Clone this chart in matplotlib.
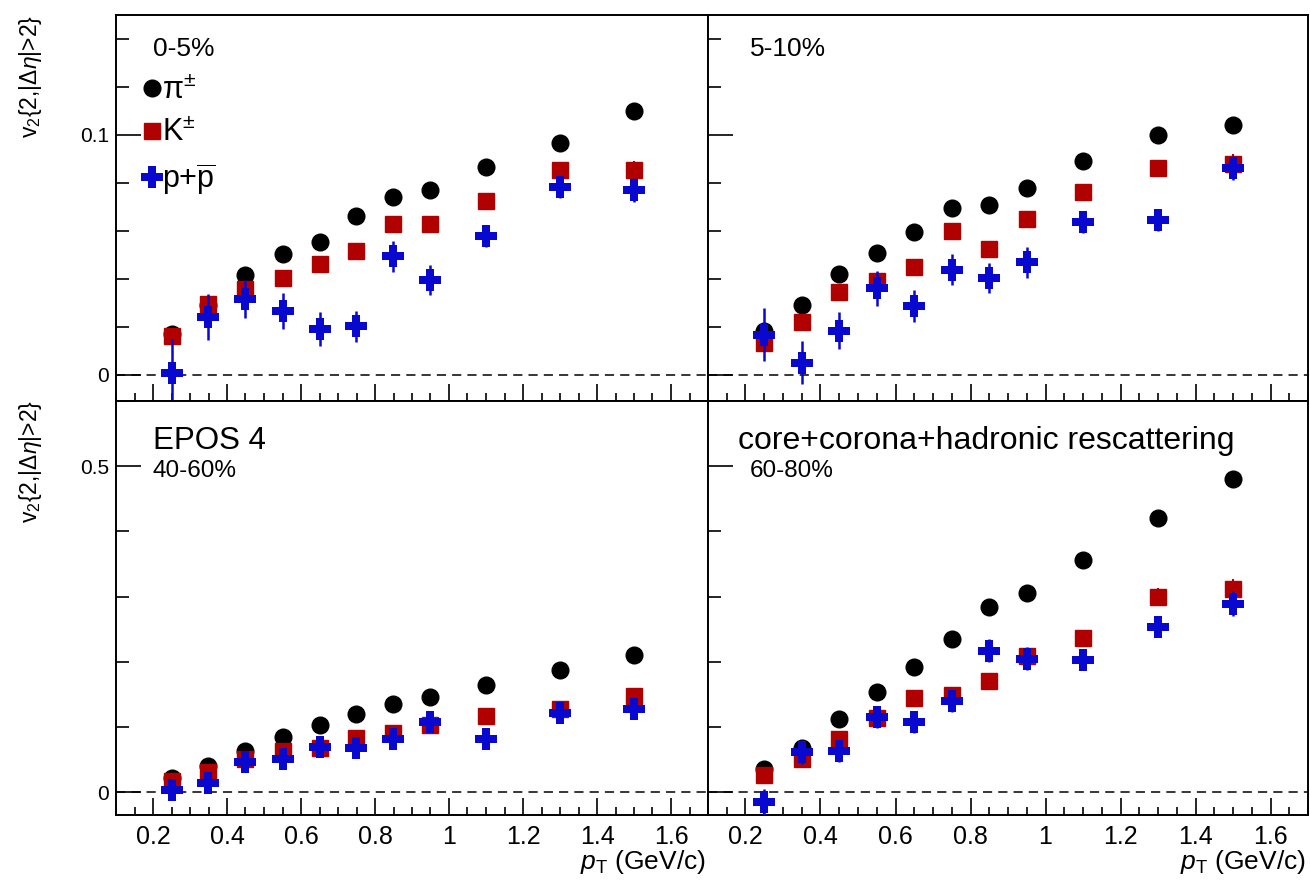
import matplotlib
matplotlib.use("Agg")
import matplotlib.pyplot as plt
from matplotlib.ticker import MultipleLocator
from matplotlib.lines import Line2D

plt.rcParams['font.family'] = ['Liberation Sans', 'DejaVu Sans']
plt.rcParams['mathtext.fontset'] = 'custom'
plt.rcParams['mathtext.rm'] = 'Liberation Sans'
plt.rcParams['mathtext.it'] = 'Liberation Sans:italic'
plt.rcParams['mathtext.bf'] = 'Liberation Sans:bold'

# transverse momentum bin centres (GeV/c)
pt = [0.25, 0.35, 0.45, 0.55, 0.65, 0.75, 0.85, 0.95, 1.1, 1.3, 1.5]

# ---- 0-5% ----
pi_0_5 = [0.0170, 0.0290, 0.0417, 0.0503, 0.0553, 0.0660, 0.0740, 0.0768, 0.0868, 0.0967, 0.1100]
pi_0_5_err = [0.001, 0.001, 0.001, 0.001, 0.001, 0.001, 0.001, 0.001, 0.001, 0.001, 0.001]
k_0_5 = [0.0163, 0.0294, 0.0357, 0.0401, 0.0461, 0.0515, 0.0628, 0.0629, 0.0724, 0.0853, 0.0853]
k_0_5_err = [0.002, 0.002, 0.002, 0.002, 0.002, 0.002, 0.002, 0.002, 0.002, 0.003, 0.004]
p_0_5 = [0.0007, 0.0239, 0.0315, 0.0265, 0.0190, 0.0201, 0.0494, 0.0396, 0.0578, 0.0782, 0.0771]
p_0_5_err = [0.0140, 0.0096, 0.0080, 0.0075, 0.0070, 0.0066, 0.0064, 0.0063, 0.0045, 0.0045, 0.0050]

# ---- 5-10% ----
pi_5_10 = [0.0180, 0.0290, 0.0421, 0.0507, 0.0594, 0.0697, 0.0706, 0.0780, 0.0889, 0.0999, 0.1042]
pi_5_10_err = [0.001, 0.001, 0.001, 0.001, 0.001, 0.001, 0.001, 0.001, 0.001, 0.001, 0.001]
k_5_10 = [0.0132, 0.0221, 0.0343, 0.0389, 0.0450, 0.0597, 0.0526, 0.0650, 0.0763, 0.0861, 0.0879]
k_5_10_err = [0.002, 0.002, 0.002, 0.002, 0.002, 0.002, 0.002, 0.002, 0.002, 0.003, 0.004]
p_5_10 = [0.0167, 0.0049, 0.0183, 0.0360, 0.0288, 0.0438, 0.0403, 0.0468, 0.0636, 0.0646, 0.0861]
p_5_10_err = [0.0110, 0.0090, 0.0078, 0.0072, 0.0067, 0.0065, 0.0063, 0.0064, 0.0045, 0.0045, 0.0050]

# ---- 40-60% ----
pi_40_60 = [0.0215, 0.0400, 0.0634, 0.0854, 0.1033, 0.1196, 0.1360, 0.1462, 0.1641, 0.1870, 0.2106]
pi_40_60_err = [0.002, 0.002, 0.002, 0.002, 0.002, 0.002, 0.002, 0.002, 0.002, 0.002, 0.002]
k_40_60 = [0.0170, 0.0317, 0.0506, 0.0634, 0.0685, 0.0828, 0.0905, 0.1028, 0.1170, 0.1270, 0.1470]
k_40_60_err = [0.004, 0.004, 0.004, 0.004, 0.004, 0.004, 0.004, 0.004, 0.005, 0.006, 0.007]
p_40_60 = [0.0036, 0.0148, 0.0465, 0.0506, 0.0695, 0.0675, 0.0813, 0.1069, 0.0813, 0.1217, 0.1283]
p_40_60_err = [0.010, 0.010, 0.010, 0.010, 0.010, 0.010, 0.010, 0.010, 0.008, 0.010, 0.012]

# ---- 60-80% ----
pi_60_80 = [0.0350, 0.0680, 0.1130, 0.1544, 0.1917, 0.2352, 0.2848, 0.3052, 0.3558, 0.4202, 0.4796]
pi_60_80_err = [0.003, 0.003, 0.003, 0.003, 0.003, 0.003, 0.003, 0.003, 0.004, 0.005, 0.006]
k_60_80 = [0.0260, 0.0506, 0.0813, 0.1145, 0.1447, 0.1490, 0.1708, 0.2090, 0.2367, 0.2996, 0.3113]
k_60_80_err = [0.006, 0.006, 0.006, 0.006, 0.007, 0.007, 0.008, 0.008, 0.010, 0.013, 0.016]
p_60_80 = [-0.0158, 0.0619, 0.0634, 0.1150, 0.1069, 0.1396, 0.2173, 0.2050, 0.2035, 0.2530, 0.2889]
p_60_80_err = [0.020, 0.018, 0.017, 0.016, 0.016, 0.017, 0.018, 0.018, 0.014, 0.015, 0.019]

species = [r'$\mathrm{\pi}^{\pm}$', r'K$^{\pm}$', r'p+$\overline{\mathrm{p}}$']

panels = [
    dict(label="0-5%", pi=pi_0_5, pie=pi_0_5_err, k=k_0_5, ke=k_0_5_err, p=p_0_5, pe=p_0_5_err),
    dict(label="5-10%", pi=pi_5_10, pie=pi_5_10_err, k=k_5_10, ke=k_5_10_err, p=p_5_10, pe=p_5_10_err),
    dict(label="40-60%", pi=pi_40_60, pie=pi_40_60_err, k=k_40_60, ke=k_40_60_err, p=p_40_60, pe=p_40_60_err),
    dict(label="60-80%", pi=pi_60_80, pie=pi_60_80_err, k=k_60_80, ke=k_60_80_err, p=p_60_80, pe=p_60_80_err),
]

W, H = 1310, 882
fig = plt.figure(figsize=(W / 100, H / 100), dpi=100)


def frac_box(x0, y0, x1, y1):
    return [x0 / W, 1 - y1 / H, (x1 - x0) / W, (y1 - y0) / H]


boxes = [frac_box(116, 15, 708, 401), frac_box(708, 15, 1308, 401),
         frac_box(116, 401, 708, 815), frac_box(708, 401, 1308, 815)]

RED = '#b00000'
BLUE = '#0808cf'
PI_MS, K_MS, P_MS = 12, 11, 16

fmt0 = plt.FuncFormatter(lambda v, _: "0" if abs(v) < 1e-9 else f"{v:g}")

axes = []
for i, (box, pan) in enumerate(zip(boxes, panels)):
    ax = fig.add_axes(box)
    axes.append(ax)
    top = i < 2
    ax.set_xlim(0.1, 1.7)
    if top:
        ax.set_ylim(-0.011, 0.15)
        ax.yaxis.set_major_locator(MultipleLocator(0.1))
        ax.yaxis.set_minor_locator(MultipleLocator(0.02))
    else:
        ax.set_ylim(-0.035, 0.6)
        ax.yaxis.set_major_locator(MultipleLocator(0.5))
        ax.yaxis.set_minor_locator(MultipleLocator(0.1))
    ax.xaxis.set_major_locator(MultipleLocator(0.2))
    ax.xaxis.set_minor_locator(MultipleLocator(0.05))

    ax.axhline(0, color='black', lw=1.1, ls=(0, (6, 4)), zorder=1)

    ax.errorbar(pt, pan['pi'], yerr=pan['pie'], fmt='o', color='black', ms=PI_MS,
                elinewidth=1.5, capsize=0, zorder=3)
    ax.errorbar(pt, pan['k'], yerr=pan['ke'], fmt='s', color=RED, ms=K_MS,
                elinewidth=1.5, capsize=0, zorder=4)
    ax.errorbar(pt, pan['p'], yerr=pan['pe'], fmt='P', color=BLUE, ms=P_MS,
                mew=0, elinewidth=1.8, capsize=0, zorder=5)

    for s in ax.spines.values():
        s.set_linewidth(1.4)
    ax.tick_params(axis='both', which='both', direction='in', top=False, right=False, width=1.2)
    ax.tick_params(axis='x', which='major', length=12, labelsize=18, pad=7)
    ax.tick_params(axis='x', which='minor', length=6)
    ax.tick_params(axis='y', which='major', length=18, labelsize=15, pad=5)
    ax.tick_params(axis='y', which='minor', length=9)

    if top:
        ax.tick_params(axis='x', labelbottom=False)
    if i % 2 == 1:
        ax.tick_params(axis='y', labelleft=False)
    ax.yaxis.set_major_formatter(fmt0)
    ax.xaxis.set_major_formatter(plt.FuncFormatter(lambda v, _: f"{v:g}"))

# panel annotations
axes[0].text(0.062, 0.913, "0-5%", transform=axes[0].transAxes, fontsize=19, va='center', ha='left')
axes[1].text(0.07, 0.913, "5-10%", transform=axes[1].transAxes, fontsize=19, va='center', ha='left')
axes[2].text(0.062, 0.903, "EPOS 4", transform=axes[2].transAxes, fontsize=22.5, va='center', ha='left')
axes[2].text(0.062, 0.83, "40-60%", transform=axes[2].transAxes, fontsize=17.5, va='center', ha='left')
axes[3].text(0.05, 0.903, "core+corona+hadronic rescattering", transform=axes[3].transAxes,
             fontsize=23, va='center', ha='left')
axes[3].text(0.07, 0.83, "60-80%", transform=axes[3].transAxes, fontsize=17.5, va='center', ha='left')

# species legend
handles = [
    Line2D([], [], ls='none', marker='o', color='black', ms=PI_MS),
    Line2D([], [], ls='none', marker='s', color=RED, ms=K_MS),
    Line2D([], [], ls='none', marker='P', color=BLUE, ms=P_MS, mew=0),
]
axes[0].legend(handles, species, loc='upper left', bbox_to_anchor=(0.046, 0.843),
               frameon=False, fontsize=22, handlelength=0.55, handletextpad=0.05,
               labelspacing=0.42, borderaxespad=0, borderpad=0)

# axis titles
ylab = r'v$_2${2,|$\Delta\eta$|>2}'
fig.text(30 / W, 1 - 15 / H, ylab, rotation=90, ha='center', va='top', fontsize=16.5)
fig.text(30 / W, 1 - 400 / H, ylab, rotation=90, ha='center', va='top', fontsize=16.5)
xlab = r'$p_{\mathrm{T}}$ (GeV/c)'
fig.text(706 / W, 1 - 862 / H, xlab, ha='right', va='center', fontsize=19)
fig.text(1306 / W, 1 - 862 / H, xlab, ha='right', va='center', fontsize=19)

fig.savefig("out.png", dpi=100)
